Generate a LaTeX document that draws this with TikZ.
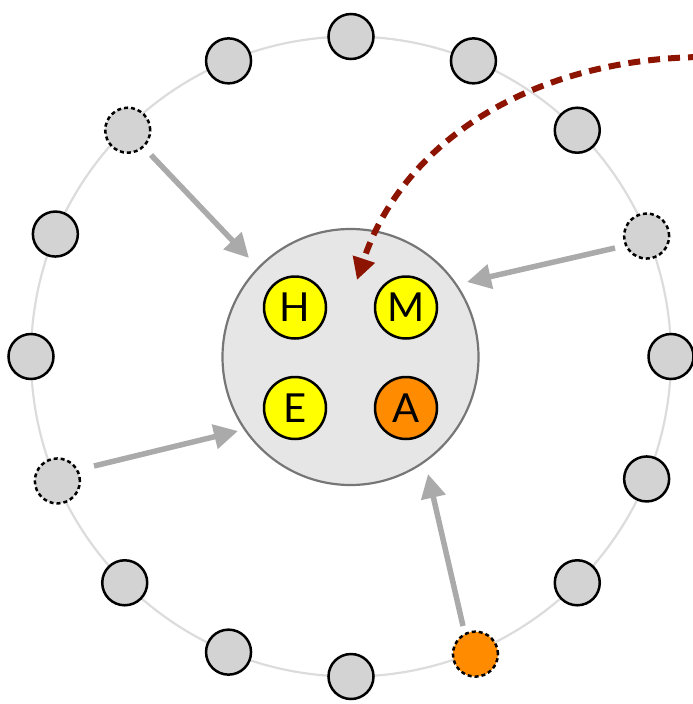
\documentclass[tikz,border=0pt]{standalone}
\usepackage{fontspec}
\setmainfont{Lato}
\usetikzlibrary{arrows.meta}
\definecolor{ringgray}{RGB}{220,220,220}
\definecolor{nodegray}{RGB}{211,211,211}
\definecolor{hubfill}{RGB}{230,230,230}
\definecolor{hubline}{RGB}{118,118,118}
\definecolor{arrowgray}{RGB}{170,170,170}
\definecolor{darkred}{RGB}{140,20,0}
\definecolor{yel}{RGB}{255,255,0}
\definecolor{orng}{RGB}{255,140,0}
\tikzset{
  peer/.style={circle, draw=black, line width=2.5pt, fill=nodegray, minimum size=45pt, inner sep=0pt},
  peerdash/.style={peer, dash pattern=on 4pt off 3pt},
  inner/.style={circle, draw=black, line width=2.5pt, fill=yel, minimum size=62pt, inner sep=0pt, font=\fontsize{40}{40}\selectfont},
  hub/.style={circle, draw=hubline, line width=2.2pt, fill=hubfill, minimum size=256pt, inner sep=0pt},
  garrow/.style={draw=arrowgray, line width=5.5pt, -{Triangle[length=24pt,width=24pt]}},
  rarrow/.style={draw=darkred, line width=6pt, dash pattern=on 12pt off 8pt, -{Triangle[length=22pt,width=22pt]}}
}
\begin{document}
\begin{tikzpicture}[x=1pt,y=-1pt]
\useasboundingbox (0,0) rectangle (693,704);
\draw[ringgray, line width=2.2pt] (351,356.5) circle[radius=320];
\node[hub] (hub) at (350.5,357) {};
\node[inner] (H) at (295,307.5) {H};
\node[inner] (M) at (406,307.5) {M};
\node[inner] (E) at (295,408) {E};
\node[inner, fill=orng] (A) at (406,408) {A};
% peers
\foreach \k in {0,1,2,4,5,6,8,9,10,12,13,15}{
  \node[peer] (p\k) at ({351+320*sin(22.5*\k)},{356.5-320*cos(22.5*\k)}) {};
}
\node[peerdash] (p3) at ({351+320*sin(67.5)},{356.5-320*cos(67.5)+2}) {};
\node[peerdash] (p11) at ({351-320*sin(67.5)+2},{356.5+320*cos(67.5)+2}) {};
\node[peerdash] (p14) at ({351-320*sin(45)+3},{356.5-320*cos(45)}) {};
\node[peerdash, fill=orng] (p7) at ({351+320*sin(22.5)+2},{356.5+320*cos(22.5)+2}) {};
% arrow ends
\coordinate (s1) at (151,155);
\coordinate (t1) at (249,258);
\coordinate (s2) at (615,248);
\coordinate (t2) at (467,282);
\coordinate (s3) at (94,466);
\coordinate (t3) at (238,431);
\coordinate (s4) at (463,626);
\coordinate (t4) at (428,474);
\draw[garrow] (s1) -- (t1);
\draw[garrow] (s2) -- (t2);
\draw[garrow] (s3) -- (t3);
\draw[garrow] (s4) -- (t4);
\coordinate (rs) at (700,57);
\coordinate (rt) at (357,280);
\draw[rarrow] (rs) .. controls (520,60) and (400,150) .. (rt);
\end{tikzpicture}
\end{document}
